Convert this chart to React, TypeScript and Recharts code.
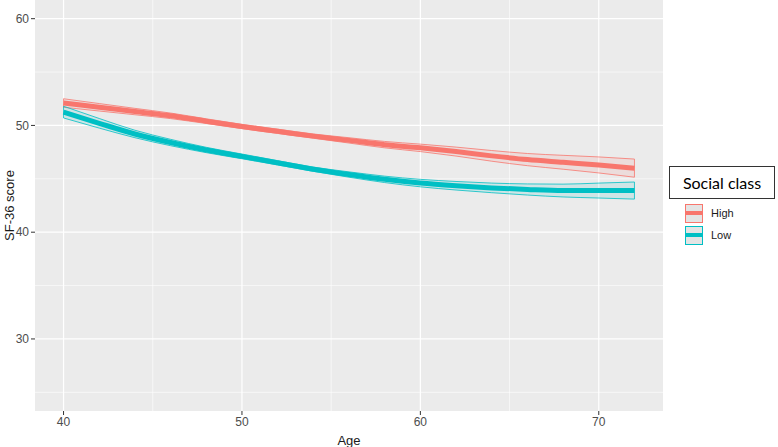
import React from "react";
import {
  ComposedChart,
  Area,
  Line,
  XAxis,
  YAxis,
  CartesianGrid,
  ReferenceLine,
} from "recharts";

const ages = [40, 42, 44, 46, 48, 50, 52, 54, 56, 58, 60, 62, 64, 66, 68, 70, 72];

const highFit = [52.1, 51.7, 51.3, 50.9, 50.4, 49.9, 49.45, 49.0, 48.6, 48.2, 47.9, 47.55, 47.15, 46.8, 46.55, 46.3, 46.0];
const highUpper = [52.5, 52.05, 51.6, 51.16, 50.62, 50.1, 49.65, 49.2, 48.85, 48.5, 48.25, 47.97, 47.65, 47.37, 47.2, 47.05, 46.85];
const highLower = [51.7, 51.35, 51.0, 50.64, 50.18, 49.7, 49.25, 48.8, 48.35, 47.9, 47.55, 47.13, 46.65, 46.23, 45.9, 45.55, 45.15];

const lowFit = [51.25, 50.2, 49.2, 48.4, 47.7, 47.1, 46.5, 45.9, 45.4, 44.95, 44.6, 44.35, 44.15, 44.0, 43.9, 43.9, 43.9];
const lowUpper = [51.8, 50.65, 49.55, 48.7, 47.95, 47.32, 46.7, 46.1, 45.65, 45.25, 44.95, 44.75, 44.6, 44.52, 44.5, 44.6, 44.7];
const lowLower = [50.7, 49.75, 48.85, 48.1, 47.45, 46.88, 46.3, 45.7, 45.15, 44.65, 44.25, 43.95, 43.7, 43.48, 43.3, 43.2, 43.1];

const xTicks = [40, 50, 60, 70];
const xMinor = [45, 55, 65];
const yTicks = [30, 40, 50, 60];
const yMinor = [25, 35, 45, 55];

const HIGH = "#F8766D";
const LOW = "#00BFC4";

const data = ages.map((age, i) => ({
  age,
  highFit: highFit[i],
  highBand: [highLower[i], highUpper[i]],
  lowFit: lowFit[i],
  lowBand: [lowLower[i], lowUpper[i]],
}));

const first = 0;
const last = ages.length - 1;

const tickStyle = { fill: "#4d4d4d", fontSize: 12, fontFamily: "Liberation Sans, Arial, sans-serif" };

function LegendBox() {
  const items = [
    { name: "High", color: HIGH },
    { name: "Low", color: LOW },
  ];
  return (
    <div style={{ position: "absolute", left: 669, top: 166, width: 108, fontFamily: "Liberation Sans, Arial, sans-serif" }}>
      <div
        style={{
          width: 106,
          height: 33,
          border: "1px solid #333",
          boxSizing: "border-box",
          display: "flex",
          alignItems: "center",
          justifyContent: "center",
          fontFamily: "Lato, sans-serif",
          fontSize: 16,
          color: "#000",
          background: "#fff",
        }}
      >
        Social class
      </div>
      <div style={{ marginTop: 3, marginLeft: 16 }}>
        {[0, 1].map(i => {
          const it = items[i];
          return (
            <div key={it.name} style={{ display: "flex", alignItems: "center", height: 22 }}>
              <div
                style={{
                  width: 18,
                  height: 19,
                  boxSizing: "border-box",
                  border: `1px solid ${it.color}`,
                  background: "#e4e4e4",
                  position: "relative",
                }}
              >
                <div
                  style={{
                    position: "absolute",
                    left: 0,
                    right: 0,
                    top: 6.5,
                    height: 4,
                    background: it.color,
                  }}
                />
              </div>
              <span style={{ marginLeft: 8, fontSize: 11, color: "#1a1a1a" }}>{it.name}</span>
            </div>
          );
        })}
      </div>
    </div>
  );
}

export default function App() {
  return (
    <div style={{ position: "absolute", left: 0, top: 0, width: 778, height: 447, background: "#fff" }}>
      <ComposedChart width={778} height={447} data={data} margin={{ top: 0, right: 115, bottom: 0, left: 0 }}>
        <CartesianGrid
          fill="#EBEBEB"
          stroke="#ffffff"
          strokeWidth={0.6}
          horizontalValues={yMinor}
          verticalValues={xMinor}
        />
        <CartesianGrid
          stroke="#ffffff"
          strokeWidth={1.2}
          horizontalValues={yTicks}
          verticalValues={xTicks}
        />
        <XAxis
          dataKey="age"
          type="number"
          domain={[38.4, 73.6]}
          ticks={xTicks}
          allowDataOverflow
          axisLine={false}
          tickSize={4}
          tickLine={{ stroke: "#333", strokeWidth: 1 }}
          tick={tickStyle}
          tickMargin={2}
          height={36}
          label={{ value: "Age", position: "insideBottom", offset: 2, fill: "#1a1a1a", fontSize: 13, fontFamily: "Liberation Sans, Arial, sans-serif" }}
        />
        <YAxis
          type="number"
          domain={[23.25, 61.75]}
          ticks={yTicks}
          allowDataOverflow
          axisLine={false}
          tickSize={4}
          tickLine={{ stroke: "#333", strokeWidth: 1 }}
          tick={tickStyle}
          tickMargin={2}
          width={35}
          label={{
            value: "SF-36 score",
            angle: -90,
            position: "insideLeft",
            offset: 9,
            style: { textAnchor: "middle" },
            fill: "#1a1a1a",
            fontSize: 13,
            fontFamily: "Liberation Sans, Arial, sans-serif",
          }}
        />
        <Area
          dataKey="highBand"
          type="monotone"
          stroke={HIGH}
          strokeWidth={0.8}
          fill={HIGH}
          fillOpacity={0.12}
          isAnimationActive={false}
        />
        <Area
          dataKey="lowBand"
          type="monotone"
          stroke={LOW}
          strokeWidth={0.8}
          fill={LOW}
          fillOpacity={0.12}
          isAnimationActive={false}
        />
        <ReferenceLine
          segment={[{ x: ages[last], y: highLower[last] }, { x: ages[last], y: highUpper[last] }]}
          stroke={HIGH}
          strokeWidth={0.8}
        />
        <ReferenceLine
          segment={[{ x: ages[last], y: lowLower[last] }, { x: ages[last], y: lowUpper[last] }]}
          stroke={LOW}
          strokeWidth={0.8}
        />
        <ReferenceLine
          segment={[{ x: ages[first], y: highLower[first] }, { x: ages[first], y: highUpper[first] }]}
          stroke={HIGH}
          strokeWidth={0.8}
        />
        <ReferenceLine
          segment={[{ x: ages[first], y: lowLower[first] }, { x: ages[first], y: lowUpper[first] }]}
          stroke={LOW}
          strokeWidth={0.8}
        />
        <Line dataKey="highFit" type="monotone" stroke={HIGH} strokeWidth={5} dot={false} isAnimationActive={false} />
        <Line dataKey="lowFit" type="monotone" stroke={LOW} strokeWidth={5} dot={false} isAnimationActive={false} />
      </ComposedChart>
      <LegendBox />
    </div>
  );
}
